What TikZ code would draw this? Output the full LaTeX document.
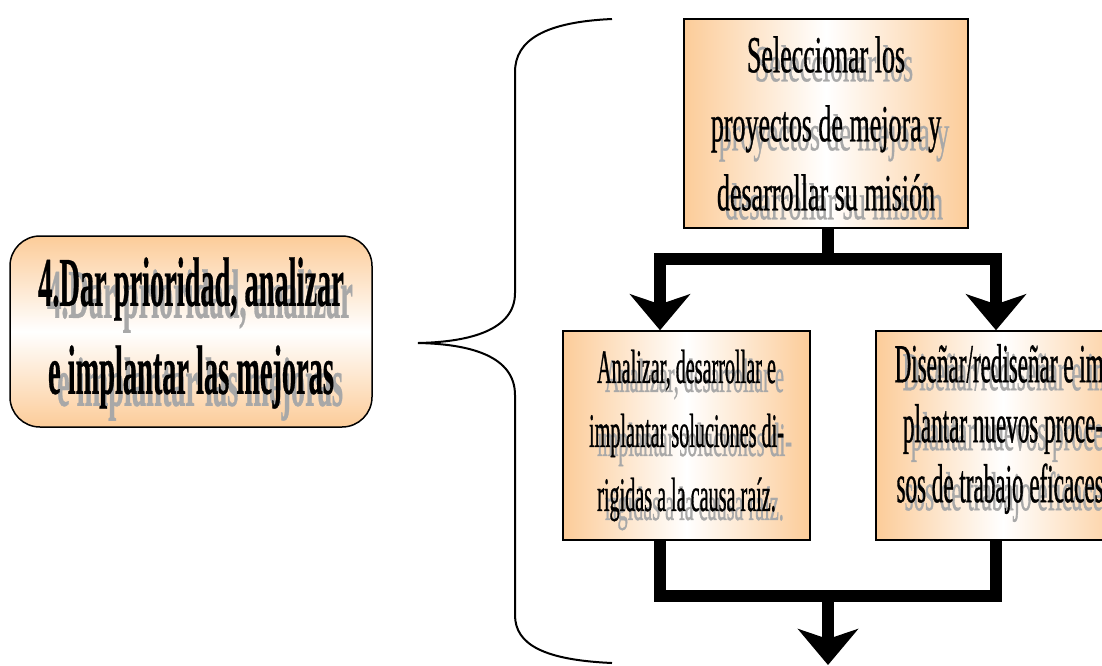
\documentclass[tikz,border=0pt]{standalone}
\usepackage{fontspec}
\setmainfont{Liberation Serif}
% condensed serif faces
\newfontfamily\headfont[FakeStretch=0.405,FakeBold=0.4]{Liberation Serif}
\newfontfamily\topfont[FakeStretch=0.5,FakeBold=0.6]{Liberation Serif}
\newfontfamily\stepfont[FakeStretch=0.42,FakeBold=0.6]{Liberation Serif}
\usetikzlibrary{arrows.meta}
\definecolor{peach}{RGB}{252,204,153}
\definecolor{ghost}{RGB}{168,168,168}

\begin{document}
\begin{tikzpicture}[x=1pt,y=-1pt,
  card/.style={draw=black, line width=1.5pt, left color=peach, right color=peach,
    middle color=white, inner sep=0pt},
  headbox/.style={draw=black, line width=1.5pt, rounded corners=30pt,
    top color=peach, bottom color=peach, middle color=white, inner sep=0pt,
    minimum width=362pt, minimum height=191pt},
  txt/.style={align=center, inner sep=0pt, text=black},
  ghosttxt/.style={align=center, inner sep=0pt, text=ghost},
  flow/.style={line width=12pt, line join=miter},
  bigtip/.style={-{Stealth[length=36pt,width=60pt,inset=10pt]}},
  bigtips/.style={{Stealth[length=36pt,width=60pt,inset=10pt]}-{Stealth[length=36pt,width=60pt,inset=10pt]}},
]
\useasboundingbox (0,0) rectangle (1102,665);
\clip (0,0) rectangle (1102,665);

% boxes
\node[headbox] (lft) at (191,331.5) {};
\node[card, minimum width=284pt, minimum height=209pt] (sel) at (826,123.5) {};
\node[card, minimum width=247pt, minimum height=209pt] (an) at (686.5,435.5) {};
\node[card, minimum width=254pt, minimum height=209pt] (de) at (1003,435.5) {};

% heading text with its grey echo
\node[ghosttxt, font=\headfont\bfseries\fontsize{70}{88}\selectfont] (lftS) at (200,345) {4.Dar prioridad, analizar\\e implantar las mejoras};
\node[txt, font=\headfont\bfseries\fontsize{70}{88}\selectfont] (lftT) at (191,333) {4.Dar prioridad, analizar\\e implantar las mejoras};

\node[ghosttxt, font=\topfont\fontsize{52}{69}\selectfont] (selS) at ([shift={(8,9)}]sel.center) {Seleccionar los\\proyectos de mejora y\\desarrollar su misión};
\node[txt, font=\topfont\fontsize{52}{69}\selectfont] (selT) at (sel.center) {Seleccionar los\\proyectos de mejora y\\desarrollar su misión};

\node[ghosttxt, font=\stepfont\fontsize{48}{64}\selectfont] (anS) at ([shift={(8,9)}]an.center) {Analizar, desarrollar e\\implantar soluciones di-\\rigidas a la causa raíz.};
\node[txt, font=\stepfont\fontsize{48}{64}\selectfont] (anT) at (an.center) {Analizar, desarrollar e\\implantar soluciones di-\\rigidas a la causa raíz.};

\node[ghosttxt, font=\stepfont\fontsize{55}{60}\selectfont] (deS) at (1011,437) {Diseñar/rediseñar e im-\\plantar nuevos proce-\\sos de trabajo eficaces.};
\node[txt, font=\stepfont\fontsize{55}{60}\selectfont] (deT) at (1003,429) {Diseñar/rediseñar e im-\\plantar nuevos proce-\\sos de trabajo eficaces.};

% brace
\draw[line width=2pt] (612,19) .. controls (545,22) and (515,40) .. (515,72)
  -- (515,293) .. controls (515,330) and (470,342) .. (418,343)
  .. controls (470,344) and (515,356) .. (515,395)
  -- (515,615) .. controls (515,645) and (545,660) .. (612,663);

% flow connectors
\coordinate (split) at (828,260);
\coordinate (merge) at (828,595);
\coordinate (out) at (828,665);
\draw[flow] (sel.south -| split) -- (split);
\draw[flow, bigtips] ([xshift=-26.5pt]an.north) -- ++(0,-71) -| ([xshift=-7pt]de.north);
\draw[flow] ([xshift=-26.5pt]an.south) -- ++(0,55) -| ([xshift=-7pt]de.south);
\draw[flow, bigtip] (merge) -- (out);
\end{tikzpicture}
\end{document}
